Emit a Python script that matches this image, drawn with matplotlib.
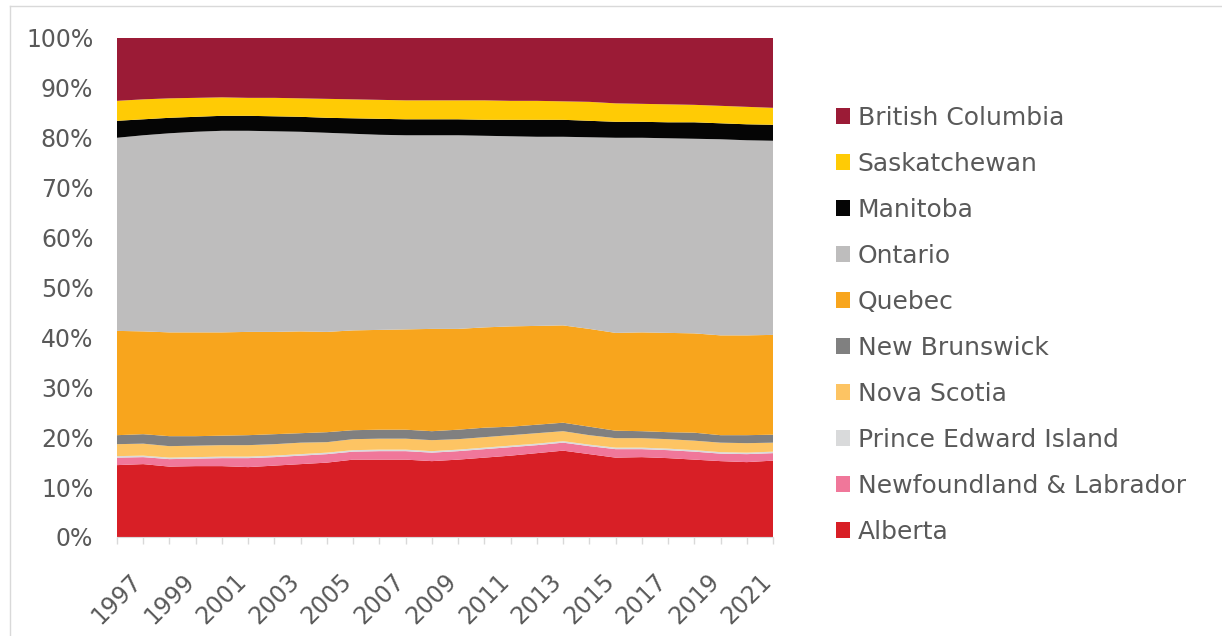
import numpy as np
import matplotlib
matplotlib.use("Agg")
import matplotlib.pyplot as plt
from matplotlib.patches import Patch
from matplotlib.ticker import PercentFormatter

plt.rcParams['font.family'] = ['DejaVu Sans']

# Years on the x axis
years = list(range(1997, 2023))

# Share of total (%) by province
alberta = [14.4, 14.6, 14.1, 14.2, 14.2, 14.0, 14.3, 14.6, 14.9, 15.5, 15.5, 15.5, 15.2,
           15.5, 15.9, 16.3, 16.8, 17.3, 16.6, 15.9, 16.0, 15.8, 15.5, 15.2, 15.0, 15.3]
newfoundland = [1.5, 1.4, 1.5, 1.5, 1.6, 1.8, 1.7, 1.7, 1.7, 1.6, 1.7, 1.7, 1.7,
                1.7, 1.7, 1.7, 1.6, 1.6, 1.6, 1.7, 1.6, 1.6, 1.6, 1.5, 1.6, 1.5]
pei = [0.3, 0.3, 0.3, 0.3, 0.3, 0.3, 0.3, 0.3, 0.3, 0.3, 0.3, 0.3, 0.3,
       0.3, 0.3, 0.3, 0.3, 0.3, 0.3, 0.3, 0.3, 0.3, 0.3, 0.3, 0.3, 0.3]
nova_scotia = [2.4, 2.4, 2.3, 2.3, 2.3, 2.3, 2.3, 2.3, 2.1, 2.2, 2.2, 2.2, 2.2,
               2.1, 2.1, 2.1, 2.1, 2.0, 1.9, 1.9, 1.9, 1.9, 1.9, 1.9, 1.9, 1.8]
new_brunswick = [1.8, 1.9, 2.0, 1.9, 1.9, 2.0, 2.0, 1.9, 2.0, 1.8, 1.8, 1.8, 1.8,
                 1.9, 1.9, 1.7, 1.7, 1.7, 1.7, 1.5, 1.4, 1.4, 1.6, 1.5, 1.6, 1.6]
quebec = [20.9, 20.6, 20.8, 20.8, 20.7, 20.7, 20.5, 20.4, 20.1, 20.0, 20.0, 20.1, 20.5,
          20.2, 20.1, 20.1, 19.8, 19.5, 19.6, 19.6, 19.8, 19.9, 19.9, 20.0, 20.0, 20.0]
ontario = [38.7, 39.3, 39.9, 40.2, 40.4, 40.3, 40.2, 40.0, 39.9, 39.4, 39.1, 38.9, 38.8,
           38.8, 38.4, 38.1, 37.9, 37.8, 38.4, 39.1, 39.0, 39.0, 39.0, 39.3, 39.1, 38.9]
manitoba = [3.4, 3.2, 3.1, 3.0, 3.0, 3.0, 3.0, 3.0, 3.0, 3.1, 3.2, 3.2, 3.2,
            3.2, 3.2, 3.3, 3.4, 3.4, 3.3, 3.2, 3.2, 3.2, 3.3, 3.2, 3.2, 3.2]
saskatchewan = [4.0, 4.0, 3.9, 3.8, 3.7, 3.6, 3.7, 3.7, 3.8, 3.8, 3.8, 3.8, 3.8,
                3.8, 3.9, 3.8, 3.8, 3.7, 3.8, 3.7, 3.6, 3.6, 3.5, 3.5, 3.5, 3.4]
british_columbia = [12.6, 12.3, 12.1, 12.0, 11.9, 12.0, 12.0, 12.1, 12.2, 12.3, 12.4, 12.5, 12.5,
                    12.5, 12.5, 12.6, 12.6, 12.7, 12.8, 13.1, 13.2, 13.3, 13.4, 13.6, 13.8, 14.0]

labels = ["Alberta", "Newfoundland & Labrador", "Prince Edward Island", "Nova Scotia",
          "New Brunswick", "Quebec", "Ontario", "Manitoba", "Saskatchewan", "British Columbia"]
colors = ["#D81F26", "#F0779A", "#D9DADB", "#FDC463", "#808080",
          "#F8A51D", "#BEBDBD", "#050505", "#FFCB05", "#9B1B36"]

series = np.array([alberta, newfoundland, pei, nova_scotia, new_brunswick,
                   quebec, ontario, manitoba, saskatchewan, british_columbia])
shares = series / series.sum(axis=0) * 100

fig = plt.figure(figsize=(12.22, 6.36), dpi=100)
ax = fig.add_axes([0.0957, 0.1557, 0.5369, 0.7846])

ax.stackplot(years, shares, colors=colors, linewidth=0)

ax.set_xlim(1997, 2022)
ax.set_ylim(0, 100)
ax.yaxis.set_major_formatter(PercentFormatter(decimals=0))
ax.set_yticks(range(0, 101, 10))

ax.set_xticks(years)
ax.set_xticklabels([str(y) if (y - 1997) % 2 == 0 else "" for y in years],
                   rotation=45, ha="center", va="top")

text_color = "#595959"
ax.tick_params(axis="y", length=0, pad=17, labelsize=17, labelcolor=text_color)
ax.tick_params(axis="x", length=5, width=1, color="#D9D9D9", pad=18,
               labelsize=17, labelcolor=text_color)

for side in ["top", "right", "left"]:
    ax.spines[side].set_visible(False)
ax.spines["bottom"].set_color("#D9D9D9")

# Legend, top entry first
handles = [Patch(facecolor=c, edgecolor="none") for c in colors]
fig.legend(handles[::-1], labels[::-1], loc="upper left", bbox_to_anchor=(0.666, 0.869),
           frameon=False, fontsize=18, labelcolor=text_color,
           handlelength=0.55, handleheight=0.55, handletextpad=0.3, labelspacing=0.88)

# Light frame on the left and top edges
fig.add_artist(plt.Line2D([0.0082, 0.0082], [0, 0.99], color="#D9D9D9", lw=1))
fig.add_artist(plt.Line2D([0.0082, 1.0], [0.99, 0.99], color="#D9D9D9", lw=1))

plt.savefig("out.png", dpi=100)
